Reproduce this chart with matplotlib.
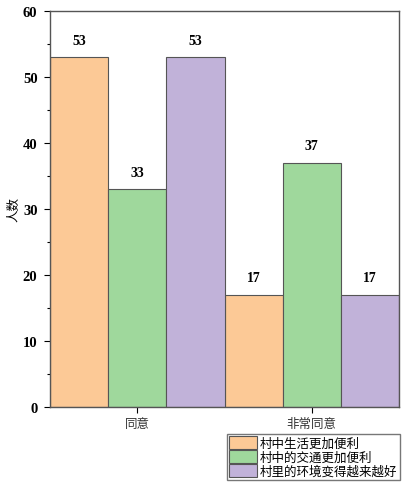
import numpy as np
import matplotlib.pyplot as plt
from matplotlib.ticker import MultipleLocator

categories = ['同意', '非常同意']
series_names = ['村中生活更加便利', '村中的交通更加便利', '村里的环境变得越来越好']
values = [
    [53, 17],
    [33, 37],
    [53, 17],
]
colors = ['#FCC996', '#9FD89C', '#C1B2D9']

plt.rcParams['font.family'] = ['Liberation Serif', 'Noto Sans CJK SC']

fig = plt.figure(figsize=(4.09, 4.89), dpi=100)
ax = fig.add_axes([0.1222, 0.1656, 0.8534, 0.81])

x = np.arange(len(categories))
width = 1 / 3
for i, (name, vals) in enumerate(zip(series_names, values)):
    pos = x + (i - 1) * width
    bars = ax.bar(pos, vals, width, color=colors[i], edgecolor='#555555',
                  linewidth=0.8, label=name)
    for b, v in zip(bars, vals):
        ax.text(b.get_x() + b.get_width() / 2, v + 1.6, str(v),
                ha='center', va='bottom', fontsize=10, fontweight='bold')

ax.set_xlim(-0.5, 1.5)
ax.set_ylim(0, 60)
ax.yaxis.set_major_locator(MultipleLocator(10))
ax.yaxis.set_minor_locator(MultipleLocator(5))
ax.set_xticks(x)
ax.set_xticklabels(categories, fontsize=9, family=['Noto Sans CJK SC'], color='#333333')
for lab in ax.get_yticklabels():
    lab.set_fontweight('bold')
    lab.set_fontsize(10.5)
ax.tick_params(axis='y', direction='out', length=4, width=0.8, pad=5)
ax.tick_params(axis='y', which='minor', direction='out', length=2.5, width=0.8)
ax.tick_params(axis='x', direction='out', length=4, width=0.8, pad=3)
ax.set_ylabel('人数', fontsize=9, family=['Noto Sans CJK SC'], labelpad=2)

for s in ax.spines.values():
    s.set_color('#555555')
    s.set_linewidth(1.0)

fig.legend(loc='lower right', bbox_to_anchor=(0.978, 0.016),
           prop={'family': ['Noto Sans CJK SC'], 'size': 9},
           frameon=True, fancybox=False, edgecolor='#555555',
           handlelength=2.2, handleheight=1.25, borderpad=0.2,
           labelspacing=0.0, handletextpad=0.25, borderaxespad=0)

fig.savefig('out.png', dpi=100)
